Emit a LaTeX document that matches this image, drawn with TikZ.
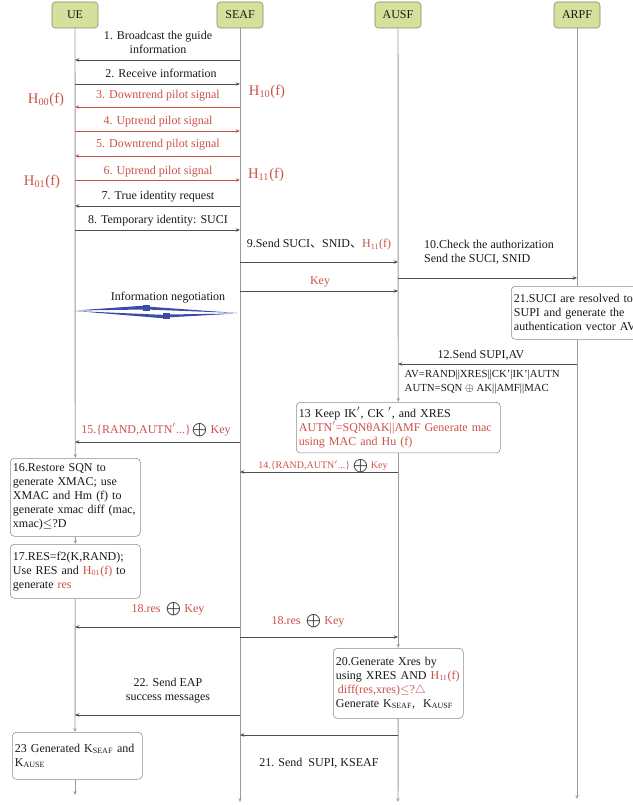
\documentclass[tikz,border=0pt]{standalone}
\usepackage{fontspec}
\setmainfont{Liberation Serif}
\newfontfamily\cjk{Noto Sans CJK SC}
\usepackage{xcolor}
\usetikzlibrary{arrows.meta}
\definecolor{HeadFill}{HTML}{D6E09C}
\definecolor{HeadDraw}{HTML}{7F8862}
\definecolor{SigRed}{HTML}{CC5147}
\definecolor{LifeGray}{HTML}{9A9A9A}
\definecolor{MsgGray}{HTML}{4E4E4E}
\definecolor{BoxGray}{HTML}{8A8A8A}
\definecolor{BoltBlue}{HTML}{3B4DA8}
\newcommand{\xo}{{\color{black!75}$\bigoplus$}}

\begin{document}
\begin{tikzpicture}[x=0.75pt,y=-0.75pt,font=\fontsize{9}{10.5}\selectfont,text=black!90,
  head/.style={draw=HeadDraw,fill=HeadFill,rounded corners=2.5pt,minimum width=34.5pt,minimum height=19.5pt,inner sep=0pt},
  life/.style={draw=LifeGray,line width=0.7pt,-{Stealth[length=3pt,width=2.4pt]}},
  msg/.style={draw=MsgGray,line width=0.6pt,-{Stealth[length=3.2pt,width=2.6pt]}},
  sig/.style={msg,draw=SigRed},
  box/.style={draw=BoxGray,fill=white,rounded corners=3pt,align=left,inner sep=2pt,anchor=north west},
  redtxt/.style={text=SigRed},
  hlbl/.style={text=SigRed,font=\fontsize{11}{13}\selectfont}]
  \useasboundingbox (0,0) rectangle (632,805);

  % Heads
  \node[head] (UE) at (75,15) {UE};
  \node[head] (SEAF) at (240,15) {SEAF};
  \node[head] (AUSF) at (398,15) {AUSF};
  \node[head] (ARPF) at (577,15) {ARPF};

  % Boxes
  \node[box,text width=93.5pt,minimum height=58.5pt] (restore) at (10,458)
    {16.Restore SQN to\\generate XMAC; use\\XMAC and Hm (f) to\\generate xmac diff (mac,\\xmac)$\leq$?D};
  \node[box,text width=93.5pt,minimum height=40.5pt] (resgen) at (10,544)
    {17.RES=f2(K,RAND);\\Use RES and \textcolor{SigRed}{H\textsubscript{01}(f)} to\\generate \textcolor{SigRed}{res}};
  \node[box,text width=93.5pt,minimum height=35.25pt] (keygen) at (12,732)
    {23 Generated K\textsubscript{SEAF} and\\K\textsubscript{AUSE}};
  \node[box,text width=149pt,minimum height=38pt] (keep) at (296,402)
    {13 Keep IK$'$, CK $'$, and XRES\\\textcolor{SigRed}{AUTN$'$=SQNθAK||AMF Generate mac}\\\textcolor{SigRed}{using MAC and Hu (f)}};
  \node[box,text width=93.5pt,minimum height=52.5pt] (xres) at (333,648)
    {20.Generate Xres by\\using XRES AND \textcolor{SigRed}{H\textsubscript{11}(f)}\\\textcolor{SigRed}{\,diff(res,xres)$\leq$?$\triangle$}\\Generate K\textsubscript{SEAF},\ \ K\textsubscript{AUSF}};
  \node[box,text width=104pt,minimum height=39.75pt] (resolve) at (511,286)
    {21.SUCI are resolved to\\SUPI and generate the\\authentication vector AV};

  % Lifelines
  \draw[life] (UE) -- (restore);
  \draw[life] (restore) -- (resgen);
  \draw[life] (resgen.south) -- (UE |- keygen.north);
  \draw[life] (UE |- keygen.south) -- (UE |- 0,795);
  \draw[life] (SEAF) -- (SEAF |- 0,802);
  \draw[life] (AUSF) -- (keep);
  \draw[life] (keep) -- (xres);
  \draw[life] (xres) -- (AUSF |- 0,802);
  \draw[LifeGray,line width=0.7pt] (ARPF) -- (ARPF |- resolve.north);
  \draw[life] (ARPF |- resolve.south) -- (ARPF |- 0,799);

  % UE <-> SEAF
  \node[align=center] (l1) at (158,42) {1. Broadcast the guide\\information};
  \draw[msg] (SEAF |- 0,60) -- (UE |- 0,60);
  \node (l2) at (161,73) {2. Receive information};
  \draw[msg] (UE |- 0,84) -- (SEAF |- 0,84);
  \node[redtxt] (l3) at (158,96) {3. Downtrend pilot signal};
  \draw[sig] (SEAF |- 0,107) -- (UE |- 0,107);
  \node[redtxt] (l4) at (158,122) {4. Uptrend pilot signal};
  \draw[sig] (UE |- 0,131) -- (SEAF |- 0,131);
  \node[redtxt] (l5) at (158,145) {5. Downtrend pilot signal};
  \draw[sig] (SEAF |- 0,156) -- (UE |- 0,156);
  \node[redtxt] (l6) at (158,172) {6. Uptrend pilot signal};
  \draw[sig] (UE |- 0,180) -- (SEAF |- 0,180);
  \node (l7) at (158,197) {7. True identity request};
  \draw[msg] (SEAF |- 0,206) -- (UE |- 0,206);
  \node (l8) at (158,221) {8. Temporary identity: SUCI};
  \draw[msg] (UE |- 0,230) -- (SEAF |- 0,230);
  \node[hlbl] (h00) at (46,100) {H\textsubscript{00}(f)};
  \node[hlbl] (h10) at (267,92) {H\textsubscript{10}(f)};
  \node[hlbl] (h01) at (42,182) {H\textsubscript{01}(f)};
  \node[hlbl] (h11) at (266,175) {H\textsubscript{11}(f)};

  % SEAF -> AUSF -> ARPF
  \node (l9) at (319,245) {9.Send SUCI{\cjk 、}SNID{\cjk 、}\textcolor{SigRed}{H\textsubscript{11}(f)}};
  \draw[msg] (SEAF |- 0,262) -- (AUSF |- 0,262);
  \node[align=left] (l10) at (489,252) {10.Check the authorization\\Send the SUCI, SNID};
  \draw[msg] (AUSF |- 0,278) -- (ARPF |- 0,278);
  \node[redtxt] (lkey) at (320,282) {Key};
  \draw[msg] (SEAF |- 0,291) -- (AUSF |- 0,291);
  \node (lneg) at (168,298) {Information negotiation};
  \fill[BoltBlue] (75,310.5) -- (146,305.5) -- (146,309.5) -- cycle;
  \fill[BoltBlue] (146,306.5) -- (146,309.5) -- (237,313) -- cycle;
  \fill[BoltBlue] (75,311) -- (166,315) -- (166,318.5) -- cycle;
  \fill[BoltBlue] (166,314.5) -- (166,317.5) -- (237,313.5) -- cycle;
  \fill[BoltBlue] (143,305) rectangle (150,311);
  \fill[BoltBlue] (163,313) rectangle (170,319);
  \node (l12) at (481,355) {12.Send SUPI,AV};
  \draw[msg] (ARPF |- 0,364) -- (AUSF |- 0,364);
  \node[align=left,anchor=west,font=\fontsize{8.1}{11}\selectfont] (lav) at (400,382)
    {AV=RAND||XRES||CK'|IK'|AUTN\\AUTN=SQN $\oplus$ AK||AMF||MAC};

  % Challenge back to UE
  \node[redtxt,font=\fontsize{7.5}{9}\selectfont] (l14) at (323,466) {14.\{RAND,AUTN$'$...\} \xo\ Key};
  \draw[msg] (AUSF |- 0,472) -- (SEAF |- 0,472);
  \node[redtxt] (l15) at (156,430) {15.\{RAND,AUTN$'$...\}\,\xo\ Key};
  \draw[msg] (SEAF |- 0,442) -- (UE |- 0,442);

  % Response
  \node[redtxt] (l18a) at (168,609) {18.res \ \xo\ Key};
  \draw[msg] (SEAF |- 0,627) -- (UE |- 0,627);
  \node[redtxt] (l18b) at (308,621) {18.res \ \xo\ Key};
  \draw[msg] (SEAF |- 0,637) -- (AUSF |- 0,637);
  \node[align=center] (l22) at (168,691) {22. Send EAP\\success messages};
  \draw[msg] (SEAF |- 0,715) -- (UE |- 0,715);
  \draw[msg] (AUSF |- 0,735) -- (SEAF |- 0,735);
  \node (l21) at (319,763) {21. Send \ SUPI, KSEAF};
\end{tikzpicture}
\end{document}
